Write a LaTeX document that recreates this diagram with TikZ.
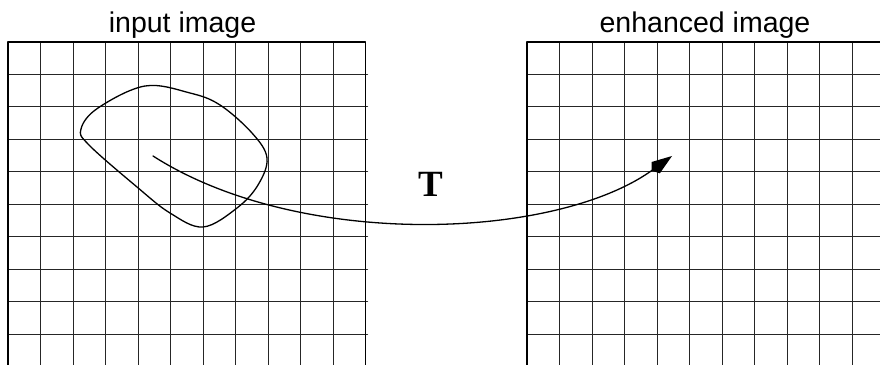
\documentclass[tikz,border=0pt]{standalone}
\usepackage{fontspec}
\setmainfont{Liberation Sans}
\newfontfamily\tfont{Liberation Serif}
\usetikzlibrary{arrows.meta}

\begin{document}
\begin{tikzpicture}[x=1pt, y=1pt, line join=round, line cap=round,
		gridline/.style={black!85, line width=1pt},
		frameline/.style={black, line width=1.5pt},
		caption/.style={font=\fontsize{28.5}{30}\selectfont, inner sep=0pt, anchor=base},
		curveline/.style={line width=1.3pt}]
		
		% Parameters
		\def\cell{32.5}  % cell size
		\def\gtop{322}   % top edge of both grids
		\def\gbot{-3}    % bottom edge (cut off by the page)
		
		\useasboundingbox (0,0) rectangle (880,364);
		\clip (0,0) rectangle (880,364);
		
		% 1. The two pixel grids
		\foreach \gx in {8, 527} {
			\foreach \i in {1,...,10}
				\draw[gridline] (\gx+\i*\cell, \gbot) -- (\gx+\i*\cell, \gtop);
			\foreach \j in {1,...,9}
				\draw[gridline] (\gx, \gtop-\j*\cell) -- (\gx+11*\cell+2, \gtop-\j*\cell);
			\draw[frameline] (\gx, \gbot) rectangle (\gx+11*\cell, \gtop);
		}
		
		% 2. Titles
		\node[caption] (inTitle) at (182.5, 331) {input image};
		\node[caption] (outTitle) at (705, 331) {enhanced image};
		
		% 3. Region in the input image
		\draw[curveline] plot[smooth cycle, tension=0.6] coordinates {
			(98,256) (145,278) (190,271) (220,259) (252,231)
			(267,206) (258,179) (237,156) (203,137) (170,151) (137,177)
			(89,219) (81,235)};
		
		% 4. Mapping T
		\coordinate (src) at (153,208);
		\coordinate (dst) at (672,208);
		\draw[curveline, -{Kite[length=25pt, width=14pt, inset=5pt]}]
			(src) .. controls (300,114) and (555,124) .. (dst);
		\node[font=\tfont\bfseries\fontsize{37}{40}\selectfont, inner sep=0pt] (T) at (431,179.5) {T};
		
	\end{tikzpicture}
\end{document}
